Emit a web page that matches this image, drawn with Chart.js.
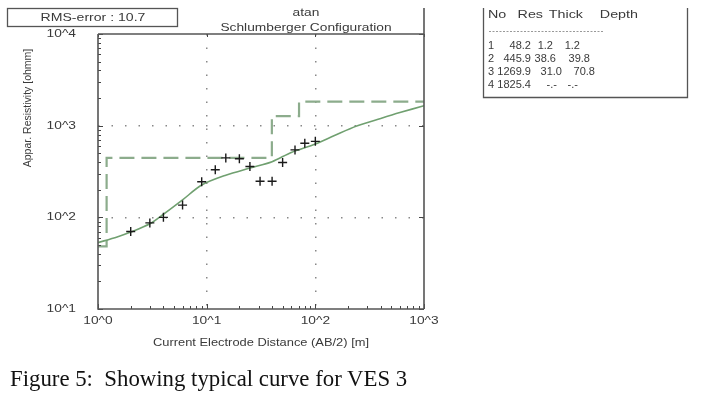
<!DOCTYPE html>
<html>
<head>
<meta charset="utf-8">
<script src="https://cdn.jsdelivr.net/npm/chart.js@4.4.1/dist/chart.umd.min.js"></script>
<style>
  body { margin: 0; background: #fff; }
  #wrap { position: relative; width: 712px; height: 412px; }
  #caption {
    position: absolute; left: 10px; top: 366px;
    font-family: "Liberation Serif", "Times New Roman", serif;
    font-size: 22.8px; color: #111; white-space: pre;
  }
</style>
</head>
<body>
<div id="wrap">
  <canvas id="ves" width="712" height="412"></canvas>
  <div id="caption">Figure 5:  Showing typical curve for VES 3</div>
</div>
<script>
// observed field data (AB/2 in m, apparent resistivity in ohmm)
const abHalf = [2, 3, 4, 6, 9, 12, 15, 20, 25, 31, 40, 50, 65, 80, 100];
const appRes = [70, 87, 100, 136, 244, 330, 445, 435, 358, 248, 248, 396, 544, 643, 674];

// calculated curve of the fitted model
const calcAb = [1, 1.5, 2, 3, 4, 6, 9, 15, 25, 40, 60, 100, 150, 240, 400, 600, 1000];
const calcRes = [53, 61, 69, 85, 108, 155, 225, 288, 345, 405, 510, 630, 780, 990, 1200, 1390, 1650];

// layered model
const layerNo = [1, 2, 3, 4];
const layerRes = [48.2, 445.9, 1269.9, 1825.4];
const layerThick = [1.2, 38.6, 31.0];
const layerDepth = [1.2, 39.8, 70.8];

const xTicks = ['10^0', '10^1', '10^2', '10^3'];
const yTicks = ['10^1', '10^2', '10^3', '10^4'];
const rmsError = 10.7;

// build the step line of the model from the layer arrays
const stepPts = [];
let xStart = 1;
layerRes.forEach((r, i) => {
    const xEnd = i < layerDepth.length ? layerDepth[i] : 1000;
    stepPts.push({x: xStart, y: r});
    stepPts.push({x: xEnd, y: r});
    xStart = xEnd;
});

const FONT = '"Liberation Sans", Arial, sans-serif';
const GREEN = 'rgb(112,160,112)';
const DASHGREEN = 'rgb(140,172,140)';
const TXT = '#3a3a3a';

function isDecade(v) {
    const l = Math.log10(v);
    return Math.abs(l - Math.round(l)) < 1e-9;
}

// the original text looks stretched sideways, so draw it a bit wider
function wideText(ctx, str, x, y, size, sx, align) {
    ctx.save();
    ctx.font = size + 'px ' + FONT;
    ctx.textAlign = align || 'center';
    ctx.textBaseline = 'middle';
    ctx.translate(x, y);
    ctx.scale(sx, 1);
    ctx.fillText(str, 0, 0);
    ctx.restore();
}

// frame, minor ticks, labels, rms box and layer table
const extras = {
    id: 'extras',
    afterDraw(chart) {
        const ctx = chart.ctx;
        const a = chart.chartArea;
        const xs = chart.scales.x, ys = chart.scales.y;
        ctx.save();

        // minor / major tick marks inside the frame
        ctx.strokeStyle = '#444';
        ctx.lineWidth = 1;
        ctx.beginPath();
        for (let d = 1; d < 1000; d *= 10) {
            for (let m = 1; m <= 10; m++) {
                const v = d * m;
                const px = Math.round(xs.getPixelForValue(v)) + 0.5;
                const len = isDecade(v) ? 5 : 3;
                ctx.moveTo(px, a.bottom); ctx.lineTo(px, a.bottom - len);
                if (isDecade(v)) { ctx.moveTo(px, a.top); ctx.lineTo(px, a.top + 3); }
            }
        }
        for (let d = 10; d < 10000; d *= 10) {
            for (let m = 1; m <= 10; m++) {
                const v = d * m;
                const py = Math.round(ys.getPixelForValue(v)) + 0.5;
                const len = isDecade(v) ? 5 : 3;
                ctx.moveTo(a.left, py); ctx.lineTo(a.left + len, py);
                if (isDecade(v)) { ctx.moveTo(a.right, py); ctx.lineTo(a.right - 5, py); }
            }
        }
        ctx.stroke();

        // frame
        ctx.strokeStyle = '#555';
        ctx.lineWidth = 1.6;
        ctx.beginPath();
        ctx.moveTo(a.left, a.top); ctx.lineTo(a.left, a.bottom);
        ctx.lineTo(a.right, a.bottom);
        ctx.moveTo(a.left, a.top); ctx.lineTo(a.right, a.top);
        ctx.moveTo(a.right, 8); ctx.lineTo(a.right, a.bottom);
        ctx.stroke();

        ctx.fillStyle = TXT;

        // tick labels
        xTicks.forEach((t, i) => {
            wideText(ctx, t, xs.getPixelForValue(Math.pow(10, i)), 321, 11, 1.25);
        });
        yTicks.forEach((t, i) => {
            const py = ys.getPixelForValue(Math.pow(10, i + 1));
            wideText(ctx, t, 76, Math.min(Math.max(py, 33), 311), 11, 1.25, 'right');
        });

        // axis titles
        wideText(ctx, 'Current Electrode Distance (AB/2) [m]', (a.left + a.right) / 2, 343, 11, 1.17);
        ctx.save();
        ctx.translate(28, 108);
        ctx.rotate(-Math.PI / 2);
        ctx.font = '10.5px ' + FONT;
        ctx.textAlign = 'center';
        ctx.textBaseline = 'middle';
        ctx.fillText('Appar. Resistivity [ohmm]', 0, 0);
        ctx.restore();

        // titles
        wideText(ctx, 'atan', 306, 13, 11, 1.25);
        wideText(ctx, 'Schlumberger Configuration', 306, 28, 11, 1.25);

        // rms box
        ctx.strokeStyle = '#555';
        ctx.lineWidth = 1.3;
        ctx.strokeRect(7.5, 8.5, 170, 18);
        wideText(ctx, 'RMS-error : ' + rmsError.toFixed(1), 93, 17.5, 11, 1.28);

        // layer table box (top edge is cut off)
        ctx.beginPath();
        ctx.moveTo(483.5, 8); ctx.lineTo(483.5, 97.5);
        ctx.lineTo(687.5, 97.5); ctx.lineTo(687.5, 8);
        ctx.stroke();

        wideText(ctx, 'No', 488, 15, 11, 1.3, 'left');
        wideText(ctx, 'Res', 543, 15, 11, 1.3, 'right');
        wideText(ctx, 'Thick', 583, 15, 11, 1.3, 'right');
        wideText(ctx, 'Depth', 638, 15, 11, 1.3, 'right');

        ctx.save();
        ctx.strokeStyle = '#999';
        ctx.lineWidth = 1;
        ctx.setLineDash([2, 1.5]);
        ctx.beginPath();
        ctx.moveTo(489, 31.5); ctx.lineTo(603, 31.5);
        ctx.stroke();
        ctx.restore();

        const thickRight = [553, 556, 562, 557];
        const depthRight = [580, 590, 595, 578];
        layerNo.forEach((n, i) => {
            const y = 46 + i * 13;
            const th = i < layerThick.length ? layerThick[i].toFixed(1) : '-.-';
            const dp = i < layerDepth.length ? layerDepth[i].toFixed(1) : '-.-';
            wideText(ctx, String(n), 488, y, 10.5, 1.05, 'left');
            wideText(ctx, layerRes[i].toFixed(1), 531, y, 10.5, 1.05, 'right');
            wideText(ctx, th, thickRight[i], y, 10.5, 1.05, 'right');
            wideText(ctx, dp, depthRight[i], y, 10.5, 1.05, 'right');
        });
        ctx.restore();
    }
};

new Chart(document.getElementById('ves').getContext('2d'), {
    type: 'scatter',
    data: {
        datasets: [
            {
                label: 'Observed',
                data: abHalf.map((x, i) => ({x: x, y: appRes[i]})),
                pointStyle: 'cross',
                pointRadius: 4.5,
                pointBorderWidth: 1.4,
                borderColor: '#1a1a1a',
                backgroundColor: '#1a1a1a',
                showLine: false,
                order: 0
            },
            {
                label: 'Calculated',
                data: calcAb.map((x, i) => ({x: x, y: calcRes[i]})),
                showLine: true,
                borderColor: GREEN,
                borderWidth: 1.6,
                pointRadius: 0,
                tension: 0.3,
                order: 1
            },
            {
                label: 'Model',
                data: stepPts,
                showLine: true,
                borderColor: DASHGREEN,
                borderWidth: 2.2,
                borderDash: [15, 7],
                pointRadius: 0,
                order: 2
            }
        ]
    },
    options: {
        responsive: false,
        animation: false,
        layout: { padding: { left: 98, top: 34, right: 288, bottom: 103 } },
        plugins: { legend: { display: false }, tooltip: { enabled: false } },
        scales: {
            x: {
                type: 'logarithmic',
                min: 1, max: 1000,
                afterFit: s => { s.height = 0; },
                border: { display: false, dash: [1.5, 12] },
                grid: {
                    drawTicks: false,
                    lineWidth: 1.5,
                    color: c => (c.tick && isDecade(c.tick.value) && c.tick.value > 1 && c.tick.value < 1000) ? '#888' : 'rgba(0,0,0,0)'
                },
                ticks: { display: false, autoSkip: false }
            },
            y: {
                type: 'logarithmic',
                min: 10, max: 10000,
                afterFit: s => { s.width = 0; },
                border: { display: false, dash: [1.5, 12] },
                grid: {
                    drawTicks: false,
                    lineWidth: 1.5,
                    color: c => (c.tick && isDecade(c.tick.value) && c.tick.value > 10 && c.tick.value < 10000) ? '#888' : 'rgba(0,0,0,0)'
                },
                ticks: { display: false, autoSkip: false }
            }
        }
    },
    plugins: [extras]
});
</script>
</body>
</html>
